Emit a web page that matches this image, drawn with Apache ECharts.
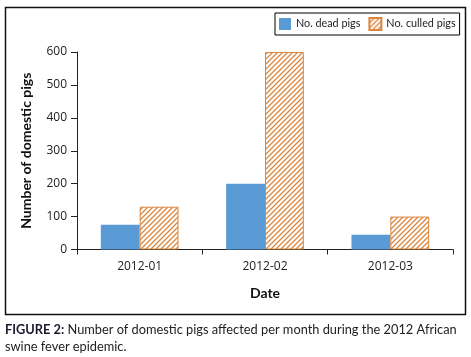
<!DOCTYPE html>
<html><head><meta charset="utf-8">
<script src="https://cdn.jsdelivr.net/npm/echarts@6/dist/echarts.min.js"></script>
<style>html,body{margin:0;padding:0;background:#fff}#c{width:471px;height:357px}</style>
</head><body><div id="c"></div>
<script>
const categories = ['2012-01', '2012-02', '2012-03'];
const deadPigs = [75, 200, 45];
const culledPigs = [130, 600, 100];
const seriesNames = ['No. dead pigs', 'No. culled pigs'];
const yTicks = [0, 100, 200, 300, 400, 500, 600];

const FONT = 'Lato';
const AXFONT = 'Open Sans';
const ORANGE = '#DC873E';

function hatch() {
  const s = 5;
  const c = document.createElement('canvas');
  c.width = s; c.height = s;
  const g = c.getContext('2d');
  g.fillStyle = '#fff'; g.fillRect(0, 0, s, s);
  g.strokeStyle = ORANGE; g.lineWidth = 1.3;
  g.beginPath();
  g.moveTo(-1, s + 1); g.lineTo(s + 1, -1);
  g.moveTo(-1, 1); g.lineTo(1, -1);
  g.moveTo(s - 1, s + 1); g.lineTo(s + 1, s - 1);
  g.stroke();
  return c;
}

const chart = echarts.init(document.getElementById('c'));
chart.setOption({
  animation: false,
  textStyle: { fontFamily: FONT },
  grid: { left: 77, right: 18, top: 52, bottom: 107.5 },
  legend: {
    data: seriesNames,
    left: 275, top: 13, icon: 'rect',
    borderColor: '#000', borderWidth: 1, borderRadius: 0,
    padding: [4, 4, 4, 4],
    itemWidth: 12, itemHeight: 12, itemGap: 8,
    textStyle: { fontFamily: FONT, fontSize: 10.8, color: '#222' }
  },
  xAxis: {
    type: 'category', data: categories,
    name: 'Date', nameLocation: 'middle', nameGap: 37,
    nameTextStyle: { fontFamily: FONT, fontWeight: 'bold', fontSize: 14, color: '#111' },
    axisLine: { lineStyle: { color: '#222', width: 1 } },
    axisTick: { show: true, length: 5, lineStyle: { color: '#222' } },
    axisLabel: { fontFamily: AXFONT, fontSize: 12, color: '#222', margin: 11 }
  },
  yAxis: {
    type: 'value', min: yTicks[0], max: yTicks[yTicks.length - 1], interval: 100,
    name: 'Number of domestic pigs', nameLocation: 'middle', nameGap: 44,
    nameTextStyle: { fontFamily: FONT, fontWeight: 'bold', fontSize: 14, color: '#111' },
    axisLine: { show: true, lineStyle: { color: '#222', width: 1 } },
    axisTick: { show: true, length: 6, lineStyle: { color: '#222' } },
    axisLabel: { fontFamily: AXFONT, fontSize: 12, color: '#222', margin: 10 },
    splitLine: { show: false }
  },
  series: [
    { name: seriesNames[0], type: 'bar', data: deadPigs, barGap: '0%', barCategoryGap: '38%',
      itemStyle: { color: '#5B9BD5' } },
    { name: seriesNames[1], type: 'bar', data: culledPigs,
      itemStyle: { color: { image: hatch(), repeat: 'repeat' }, borderColor: ORANGE, borderWidth: 1 } }
  ],
  graphic: [
    { type: 'rect', shape: { x: 5.5, y: 7.5, width: 460, height: 307 },
      style: { fill: 'none', stroke: '#111', lineWidth: 1.5 }, z: -1 },
    { type: 'text', left: 5, top: 321,
      style: { text: '{b|FIGURE 2:} Number of domestic pigs affected per month during the 2012 African\nswine fever epidemic.',
        font: '12.8px ' + FONT, fill: '#222', lineHeight: 17,
        rich: { b: { fontWeight: 'bold', fontSize: 12.8, fontFamily: FONT, fill: '#1a1a2e', lineHeight: 17 } } } }
  ]
});
</script></body></html>
